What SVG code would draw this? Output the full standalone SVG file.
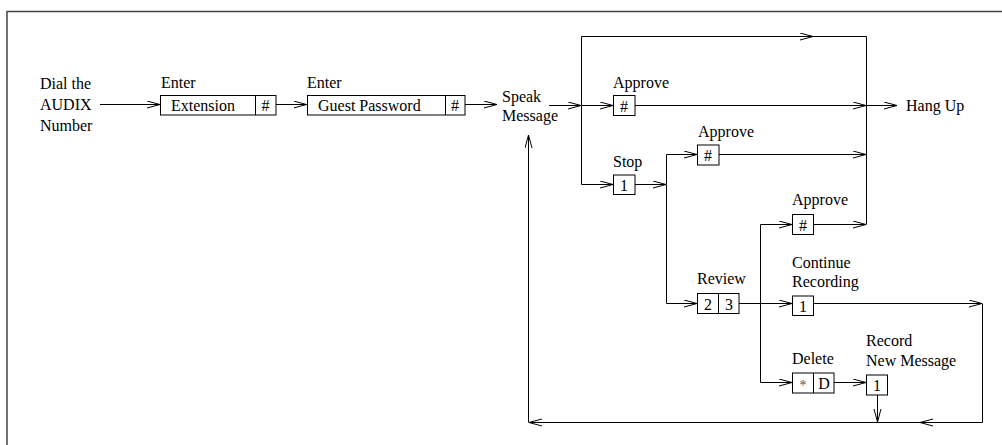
<svg xmlns="http://www.w3.org/2000/svg" width="1002" height="445" viewBox="0 0 1002 445">
<defs>
<marker id="ah" markerUnits="userSpaceOnUse" markerWidth="16" markerHeight="10" refX="13" refY="4" orient="auto">
<path d="M0,0.5 L13,4 L0,7.5" fill="none" stroke="#000" stroke-width="1"/>
</marker>
</defs>
<style>
.c{text-anchor:middle}
.box{fill:#fff;stroke:#000;stroke-width:1}
.ln{fill:none;stroke:#000;stroke-width:1}
.a{marker-end:url(#ah)}
</style>
<rect width="1002" height="445" fill="#fff"/>
<path d="M7,445 V11.5 H1002" fill="none" stroke="#444" stroke-width="1.5"/>
<g id="connectors">
<path class="ln a" d="M100,104.5 H160"/>
<path class="ln a" d="M276,104.5 H306.5"/>
<path class="ln a" d="M465,104.5 H497"/>
<path class="ln a" d="M549,105.5 H581"/>
<path class="ln a" d="M581.5,105.5 V36.5 H813"/>
<path class="ln" d="M813,36.5 H866.5 V224.5"/>
<path class="ln a" d="M581.5,105.5 H613"/>
<path class="ln a" d="M635,105.5 H866"/>
<path class="ln a" d="M866,105.5 H897"/>
<path class="ln a" d="M581.5,105.5 V184.5 H613"/>
<path class="ln a" d="M635,184.5 H666"/>
<path class="ln a" d="M666.5,184.5 V154.5 H697"/>
<path class="ln a" d="M666.5,184.5 V303.5 H697"/>
<path class="ln a" d="M719,154.5 H866"/>
<path class="ln a" d="M739,303.5 H792"/>
<path class="ln a" d="M813,303.5 H982"/>
<path class="ln a" d="M982.5,303.5 V422.5 H920"/>
<path class="ln a" d="M920,422.5 H529"/>
<path class="ln a" d="M528.5,422.5 V135"/>
<path class="ln a" d="M760.5,224.5 H792"/>
<path class="ln a" d="M760.5,224.5 V382.5 H792"/>
<path class="ln a" d="M813,224.5 H866"/>
<path class="ln a" d="M834,382.5 H866"/>
<path class="ln a" d="M877.5,395 V422"/>
</g>
<g font-family="Liberation Serif, Times New Roman, serif" font-size="16" fill="#000">
<g id="dial">
<text x="40" y="89">Dial the</text>
<text x="40" y="110">AUDIX</text>
<text x="40" y="130.5">Number</text>
</g>
<g id="extension">
<text x="161" y="87.5">Enter</text>
<rect class="box" x="160.5" y="95.5" width="115.5" height="19.5"/>
<line class="ln" x1="255.5" y1="95.5" x2="255.5" y2="115"/>
<text x="171" y="111">Extension</text>
<text class="c" x="265.5" y="111">#</text>
</g>
<g id="password">
<text x="307" y="87.5">Enter</text>
<rect class="box" x="307.5" y="95.5" width="157.5" height="19.5"/>
<line class="ln" x1="445.5" y1="95.5" x2="445.5" y2="115"/>
<text x="318" y="111">Guest Password</text>
<text class="c" x="455" y="111">#</text>
</g>
<g id="speak">
<text x="502" y="102">Speak</text>
<text x="502" y="121">Message</text>
</g>
<g id="approve1">
<text x="613" y="87.5">Approve</text>
<rect class="box" x="613.5" y="95.5" width="21.5" height="20"/>
<text class="c" x="624" y="111.5">#</text>
</g>
<g id="hangup">
<text x="906" y="111">Hang Up</text>
</g>
<g id="approve2">
<text x="698" y="136.5">Approve</text>
<rect class="box" x="697.5" y="145" width="21.5" height="20"/>
<text class="c" x="708" y="161">#</text>
</g>
<g id="stop">
<text x="613" y="167">Stop</text>
<rect class="box" x="613.5" y="175" width="21.5" height="19.5"/>
<text class="c" x="624" y="191">1</text>
</g>
<g id="approve3">
<text x="792" y="205">Approve</text>
<rect class="box" x="792.5" y="214.5" width="21" height="20"/>
<text class="c" x="803" y="230.5">#</text>
</g>
<g id="review">
<text x="697" y="284">Review</text>
<rect class="box" x="697.5" y="293.5" width="41.5" height="20"/>
<line class="ln" x1="718.5" y1="293.5" x2="718.5" y2="313.5"/>
<text class="c" x="708" y="309.5">2</text>
<text class="c" x="729" y="309.5">3</text>
</g>
<g id="continue">
<text x="792" y="267.5">Continue</text>
<text x="792" y="287">Recording</text>
<rect class="box" x="792.5" y="296" width="21" height="19.5"/>
<text class="c" x="803" y="312">1</text>
</g>
<g id="delete">
<text x="792" y="363.5">Delete</text>
<rect class="box" x="792.5" y="373" width="41.5" height="20"/>
<line class="ln" x1="813.5" y1="373" x2="813.5" y2="393"/>
<text class="c" x="803" y="390" fill="#555" font-size="14">*</text>
<text class="c" x="824" y="389">D</text>
</g>
<g id="record">
<text x="866" y="346">Record</text>
<text x="866" y="366">New Message</text>
<rect class="box" x="866.5" y="375" width="21" height="20"/>
<text class="c" x="877" y="391">1</text>
</g>
</g>
</svg>
